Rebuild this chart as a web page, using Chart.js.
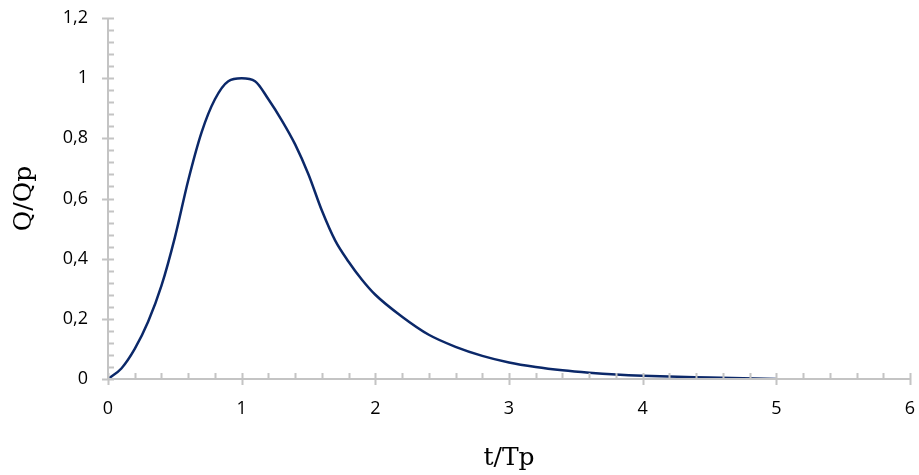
<!DOCTYPE html>
<html>
<head>
<meta charset="utf-8">
<script src="https://cdn.jsdelivr.net/npm/chart.js@4/dist/chart.umd.min.js"></script>
<style>
  html, body { margin: 0; padding: 0; background: #fff; }
  #wrap { width: 919px; height: 475px; position: relative; }
</style>
</head>
<body>
<div id="wrap"><canvas id="chart"></canvas></div>
<script>
// dimensionless unit hydrograph
const tRatio = [0, 0.1, 0.2, 0.3, 0.4, 0.5, 0.6, 0.7, 0.8, 0.9, 1.0, 1.1, 1.2, 1.3, 1.4, 1.5, 1.6, 1.7, 1.8, 1.9, 2.0,
  2.2, 2.4, 2.6, 2.8, 3.0, 3.2, 3.4, 3.6, 3.8, 4.0, 4.5, 5.0];
const qRatio = [0, 0.035, 0.10, 0.19, 0.31, 0.47, 0.66, 0.82, 0.93, 0.99, 1.00, 0.99, 0.93, 0.86, 0.78, 0.68, 0.56, 0.46, 0.39, 0.33, 0.28,
  0.207, 0.147, 0.107, 0.077, 0.055, 0.040, 0.029, 0.021, 0.015, 0.011, 0.005, 0];
const xTicks = [0, 1, 2, 3, 4, 5, 6];
const yTicks = [0, 0.2, 0.4, 0.6, 0.8, 1, 1.2];

const axisColor = '#c4c4c4';

function fmt(v) {
  return String(Number(v.toFixed(1))).replace('.', ',');
}

// axis lines + major/minor tick marks, Excel style
const tickMarks = {
  id: 'tickMarks',
  afterDraw(chart) {
    const { ctx, scales: { x, y } } = chart;
    const x0 = x.getPixelForValue(0);
    const y0 = y.getPixelForValue(0);
    ctx.save();
    ctx.strokeStyle = axisColor;
    ctx.lineWidth = 2;
    ctx.beginPath();
    ctx.moveTo(x0, y.getPixelForValue(1.2));
    ctx.lineTo(x0, y0);
    ctx.lineTo(x.getPixelForValue(6), y0);
    // y major ticks cross the axis, minor ones point inward
    for (let i = 0; i <= 30; i++) {
      const py = Math.round(y.getPixelForValue(i * 0.04)) + 0.5;
      if (i % 5 === 0) { ctx.moveTo(x0 - 6, py); ctx.lineTo(x0 + 6, py); }
      else { ctx.moveTo(x0, py); ctx.lineTo(x0 + 6, py); }
    }
    for (let i = 0; i <= 30; i++) {
      const px = Math.round(x.getPixelForValue(i * 0.2)) + 0.5;
      if (i % 5 === 0) { ctx.moveTo(px, y0 - 6); ctx.lineTo(px, y0 + 6); }
      else { ctx.moveTo(px, y0); ctx.lineTo(px, y0 - 6); }
    }
    ctx.stroke();
    ctx.restore();
  }
};

new Chart(document.getElementById('chart'), {
  type: 'line',
  data: {
    datasets: [{
      data: tRatio.map((t, i) => ({ x: t, y: qRatio[i] })),
      borderColor: '#0b2869',
      borderWidth: 2.5,
      pointRadius: 0,
      cubicInterpolationMode: 'monotone',
      fill: false,
    }],
  },
  options: {
    responsive: true,
    maintainAspectRatio: false,
    animation: false,
    layout: { padding: { top: 18, right: 9, left: 0, bottom: 0 } },
    plugins: { legend: { display: false }, tooltip: { enabled: false } },
    scales: {
      x: {
        type: 'linear',
        min: 0,
        max: 6,
        afterBuildTicks: (s) => { s.ticks = xTicks.map((v) => ({ value: v })); },
        afterFit: (s) => { s.height = 96; s.paddingLeft = 0; s.paddingRight = 0; },
        grid: { display: false, drawTicks: false },
        border: { display: false },
        ticks: { color: '#000', padding: 19, font: { family: 'Open Sans', size: 18 }, callback: (v) => fmt(v) },
        title: { display: true, text: 't/Tp', color: '#000', font: { family: 'DejaVu Serif', size: 25 }, padding: { top: 14, bottom: 2 } },
      },
      y: {
        min: 0,
        max: 1.2,
        afterBuildTicks: (s) => { s.ticks = yTicks.map((v) => ({ value: v })); },
        afterFit: (s) => { s.width = 108; s.paddingTop = 0; s.paddingBottom = 0; },
        grid: { display: false, drawTicks: false },
        border: { display: false },
        ticks: { color: '#000', padding: 20, font: { family: 'Open Sans', size: 18 }, callback: (v) => fmt(v) },
        title: { display: true, text: 'Q/Qp', color: '#000', font: { family: 'DejaVu Serif', size: 25 }, padding: { top: 9, bottom: 0 } },
      },
    },
  },
  plugins: [tickMarks],
});
</script>
</body>
</html>
